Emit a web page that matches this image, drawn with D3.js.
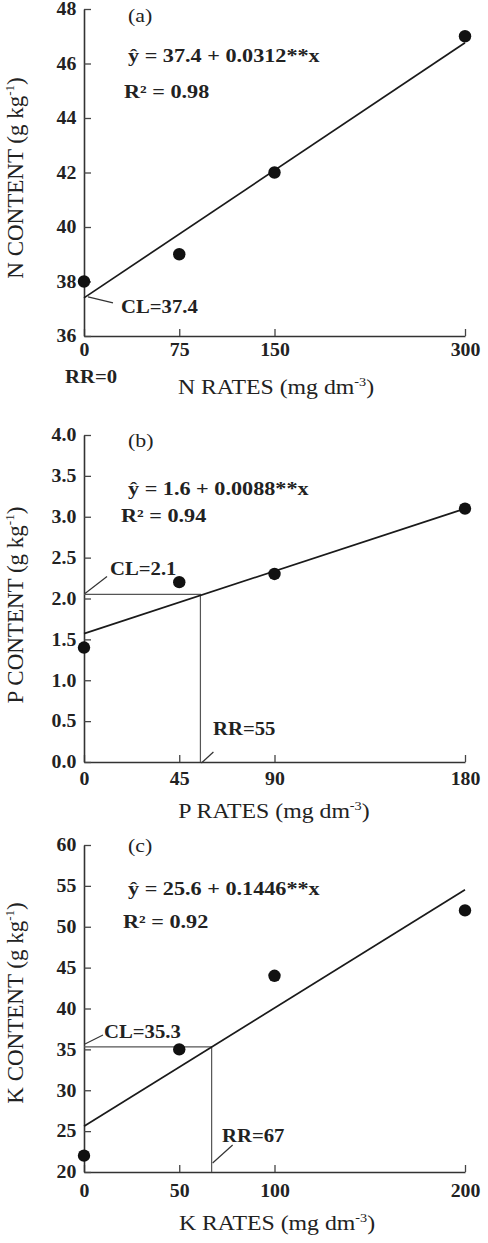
<!DOCTYPE html>
<html>
<head>
<meta charset="utf-8">
<script src="https://cdn.jsdelivr.net/npm/d3@7"></script>
<style>
  body { margin: 0; background: #fff; }
  text { font-family: "Liberation Serif", "Times New Roman", serif; fill: #222; }
</style>
</head>
<body>
<svg id="chart" width="488" height="1243"></svg>
<script>
// data
var nutrients = ["N", "P", "K"];
var nRates = [0, 75, 150, 300];
var nContent = [38, 39, 42, 47];
var pRates = [0, 45, 90, 180];
var pContent = [1.4, 2.2, 2.3, 3.1];
var kRates = [0, 50, 100, 200];
var kContent = [22, 35, 44, 52];
var intercepts = [37.4, 1.57, 25.6];
var slopes = [0.0312, 0.0085, 0.1446];
var clValues = [37.4, 2.05, 35.3];
var rrValues = [0, 55, 67];
var yDomains = [[36, 48], [0, 4], [20, 60]];
var yTicks = [[36, 38, 40, 42, 44, 46, 48], [0, 0.5, 1, 1.5, 2, 2.5, 3, 3.5, 4], [20, 25, 30, 35, 40, 45, 50, 55, 60]];
var yFormats = ["d", ".1f", "d"];
var panelLetters = ["(a)", "(b)", "(c)"];
var equations = ["ŷ =  37.4 + 0.0312**x", "ŷ = 1.6 + 0.0088**x", "ŷ = 25.6 + 0.1446**x"];
var r2Labels = ["R² = 0.98", "R² = 0.94", "R² = 0.92"];
var clLabels = ["CL=37.4", "CL=2.1", "CL=35.3"];
var rrLabels = ["RR=0", "RR=55", "RR=67"];

var rates = [nRates, pRates, kRates];
var contents = [nContent, pContent, kContent];

// layout (pixels)
var left = 84, right = 465, plotH = 327;
var tops = [9, 435, 845];
var layout = [
  {letter: [128, 22], eq: [128, 62], r2: [124, 98], cl: [121, 313], rr: [65, 383],
   clLead: [[4, -1], [29, 5]], rrLead: null, tickY: 20, xlab: [276, 394], ylab: 178},
  {letter: [128, 447], eq: [128, 495], r2: [121, 522], cl: [110, 575], rr: [213, 735],
   clLead: [[1, -1], [23, -18]], rrLead: [[1, 1], [13, -10]], tickY: 23, xlab: [274, 818], ylab: 605},
  {letter: [128, 852], eq: [128, 895], r2: [123, 928], cl: [104, 1038], rr: [222, 1142],
   clLead: [[1, -3], [19, -12]], rrLead: [[1, -9], [21, -27]], tickY: 25, xlab: [277, 1230], ylab: 1003}
];

var svg = d3.select("#chart");

function htext(g, x, y, str, size, weight, sx) {
  return g.append("text")
    .attr("transform", `translate(${x},${y}) scale(${sx},1)`)
    .attr("font-size", size)
    .attr("font-weight", weight)
    .text(str);
}

nutrients.forEach(function(nut, i) {
  var top = tops[i], bottom = top + plotH, L = layout[i];
  var xs = rates[i], ys = contents[i];
  var xMax = d3.max(xs);

  var x = d3.scaleLinear().domain([0, xMax]).range([left, right]);
  var y = d3.scaleLinear().domain(yDomains[i]).range([bottom, top]);
  var g = svg.append("g");

  // axes, ticks pointing inward
  var xAxis = g.append("g")
    .attr("transform", `translate(0,${bottom})`)
    .call(d3.axisBottom(x).tickValues(xs).tickSizeInner(-7).tickSizeOuter(0).tickPadding(L.tickY - 13));
  var yAxis = g.append("g")
    .attr("transform", `translate(${left},0)`)
    .call(d3.axisLeft(y).tickValues(yTicks[i]).tickFormat(d3.format(yFormats[i])).tickSizeInner(-7).tickSizeOuter(0).tickPadding(7));

  [xAxis, yAxis].forEach(function(a) {
    a.select(".domain").attr("stroke", "#333").attr("stroke-width", 1.6);
    a.selectAll(".tick line").attr("stroke", "#444").attr("stroke-width", 1.3);
    a.selectAll(".tick text")
      .attr("font-family", "Liberation Serif")
      .attr("font-size", 18).attr("font-weight", "bold").attr("fill", "#222");
  });
  yAxis.selectAll(".tick text").attr("transform", "scale(1.1,1)");
  xAxis.selectAll(".tick text").attr("transform", "scale(1.1,1)");

  // CL / RR guide lines
  if (rrValues[i] > 0) {
    g.append("path")
      .attr("d", `M${x(0)},${y(clValues[i])}H${x(rrValues[i])}V${bottom}`)
      .attr("fill", "none").attr("stroke", "#555").attr("stroke-width", 1.2);
  }

  // regression line
  g.append("line")
    .attr("x1", x(0)).attr("y1", y(intercepts[i]))
    .attr("x2", x(xMax)).attr("y2", y(intercepts[i] + slopes[i] * xMax))
    .attr("stroke", "#1a1a1a").attr("stroke-width", 1.7);

  // points
  g.selectAll("circle").data(xs).join("circle")
    .attr("cx", d => x(d))
    .attr("cy", (d, j) => y(ys[j]))
    .attr("r", 6.2)
    .attr("fill", "#111");

  // leader lines
  var cx0 = x(0), cy0 = y(clValues[i]);
  g.append("line")
    .attr("x1", cx0 + L.clLead[0][0]).attr("y1", cy0 + L.clLead[0][1])
    .attr("x2", cx0 + L.clLead[1][0]).attr("y2", cy0 + L.clLead[1][1])
    .attr("stroke", "#333").attr("stroke-width", 1.2);
  if (L.rrLead) {
    var rx0 = x(rrValues[i]);
    g.append("line")
      .attr("x1", rx0 + L.rrLead[0][0]).attr("y1", bottom + L.rrLead[0][1])
      .attr("x2", rx0 + L.rrLead[1][0]).attr("y2", bottom + L.rrLead[1][1])
      .attr("stroke", "#333").attr("stroke-width", 1.2);
  }

  // annotations
  htext(g, L.letter[0], L.letter[1], panelLetters[i], 19, "normal", 1.15);
  htext(g, L.eq[0], L.eq[1], equations[i], 18.5, "bold", 1.2);
  htext(g, L.r2[0], L.r2[1], r2Labels[i], 18.5, "bold", 1.2);
  htext(g, L.cl[0], L.cl[1], clLabels[i], 18.5, "bold", 1.12);
  htext(g, L.rr[0], L.rr[1], rrLabels[i], 18.5, "bold", 1.12);

  // axis titles
  var xt = g.append("text")
    .attr("transform", `translate(${L.xlab[0]},${L.xlab[1]}) scale(1.19,1)`)
    .attr("text-anchor", "middle")
    .attr("font-size", 20);
  xt.append("tspan").text(nut + " RATES (mg dm");
  xt.append("tspan").attr("font-size", 12).attr("dy", -8).text("-3");
  xt.append("tspan").attr("dy", 8).text(")");

  var yt = g.append("text")
    .attr("transform", `translate(23,${L.ylab}) rotate(-90)`)
    .attr("text-anchor", "middle")
    .attr("font-size", 23);
  yt.append("tspan").text(nut + " CONTENT (g kg");
  yt.append("tspan").attr("font-size", 13).attr("dy", -9).text("-1");
  yt.append("tspan").attr("dy", 9).text(")");
});
</script>
</body>
</html>
